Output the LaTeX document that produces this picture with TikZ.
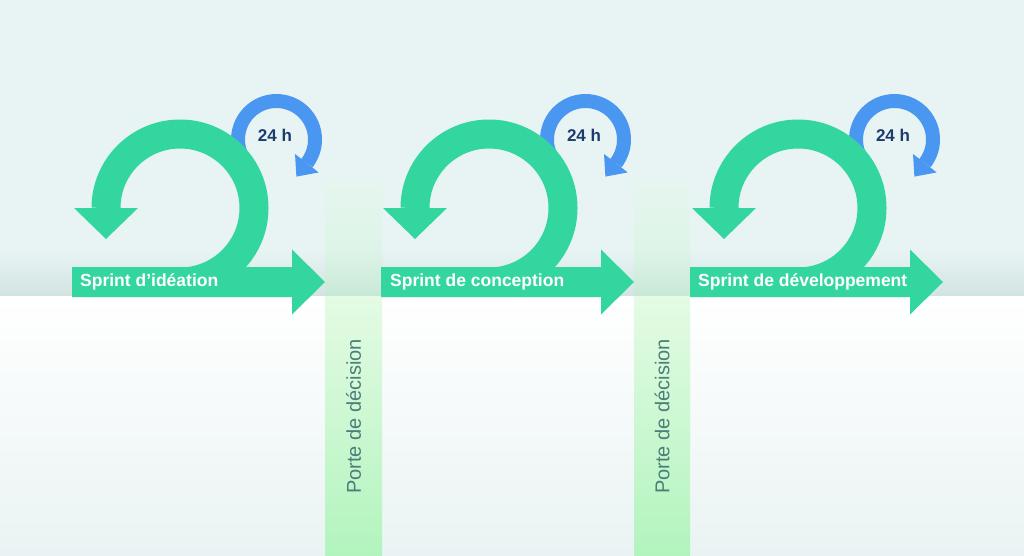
\documentclass[tikz,border=0pt]{standalone}
\usepackage{fontspec}
\setmainfont{Liberation Sans}
\usetikzlibrary{calc}
\definecolor{bandtop}{HTML}{E8F4F4}
\definecolor{bandlow}{HTML}{D2E4E2}
\definecolor{floorlow}{HTML}{EAF3F3}
\definecolor{sprintgreen}{HTML}{34D6A0}
\definecolor{dayblue}{HTML}{4A97F2}
\definecolor{daynavy}{HTML}{1C3B6E}
\definecolor{gatetop}{HTML}{E4FBE4}
\definecolor{gatelow}{HTML}{B2F4BE}
\definecolor{gatetext}{HTML}{4A7E78}
\begin{document}
\begin{tikzpicture}[x=1pt,y=-1pt,
    greenring/.style={draw=sprintgreen,line width=29pt},
    bluering/.style={draw=dayblue,line width=14pt},
    gateglass/.style={top color=gatetop,bottom color=gatelow,opacity=0.3},
    sprintlabel/.style={anchor=west,text=white,inner sep=0pt,
      font=\fontsize{17.5}{20}\selectfont\bfseries},
    daylabel/.style={text=daynavy,inner sep=0pt,
      font=\fontsize{17}{20}\selectfont\bfseries},
    gatelabel/.style={rotate=90,text=gatetext,inner sep=0pt,
      font=\fontsize{20}{24}\selectfont}]
  \useasboundingbox (0,0) rectangle (1024,555);
  % background
  \fill[bandtop] (0,0) rectangle (1024,250);
  \shade[top color=bandtop,bottom color=bandlow] (0,249.5) rectangle (1024,296);
  \shade[top color=white,bottom color=floorlow] (0,296) rectangle (1024,555);
  % decision gates
  \shade[gateglass] (325,180) rectangle (382,296);
  \shade[top color=gatetop,bottom color=gatelow] (325,296) rectangle (382,555);
  \shade[gateglass] (634,180) rectangle (690,296);
  \shade[top color=gatetop,bottom color=gatelow] (634,296) rectangle (690,555);
  \node[gatelabel] (g1) at (353.5,416.5) {Porte de décision};
  \node[gatelabel] (g2) at (662,416.5) {Porte de décision};
  % centres
  \coordinate (c1) at (180,208);
  \coordinate (c2) at (489,208);
  \coordinate (c3) at (798,208);
  \coordinate (b1) at (276.5,139.5);
  \coordinate (b2) at (585.5,139.5);
  \coordinate (b3) at (894.5,139.5);
  % 24 h loops
  \draw[bluering] ($(b1)+(145:38.5)$) arc[start angle=145,end angle=398,radius=38.5];
  \fill[dayblue] ($(b1)+(38:23.5)$) -- ($(b1)+(38:53.5)$) -- ($(b1)+(61.8:42.1)$) -- cycle;
  \draw[bluering] ($(b2)+(145:38.5)$) arc[start angle=145,end angle=398,radius=38.5];
  \fill[dayblue] ($(b2)+(38:23.5)$) -- ($(b2)+(38:53.5)$) -- ($(b2)+(61.8:42.1)$) -- cycle;
  \draw[bluering] ($(b3)+(145:38.5)$) arc[start angle=145,end angle=398,radius=38.5];
  \fill[dayblue] ($(b3)+(38:23.5)$) -- ($(b3)+(38:53.5)$) -- ($(b3)+(61.8:42.1)$) -- cycle;
  % sprint arrows
  \fill[sprintgreen] (72,267) -- (292,267) -- (292,249.5) -- (325,282)
    -- (292,314.5) -- (292,297) -- (72,297) -- cycle;
  \draw[greenring] ($(c1)+(90:74)$) arc[start angle=90,end angle=-180,radius=74];
  \fill[sprintgreen] ($(c1)+(180:42)$) -- ($(c1)+(180:106)$) -- ($(c1)+(-74,31)$) -- cycle;
  \fill[sprintgreen] (381,267) -- (601,267) -- (601,249.5) -- (634,282)
    -- (601,314.5) -- (601,297) -- (381,297) -- cycle;
  \draw[greenring] ($(c2)+(90:74)$) arc[start angle=90,end angle=-180,radius=74];
  \fill[sprintgreen] ($(c2)+(180:42)$) -- ($(c2)+(180:106)$) -- ($(c2)+(-74,31)$) -- cycle;
  \fill[sprintgreen] (690,267) -- (910,267) -- (910,249.5) -- (943,282)
    -- (910,314.5) -- (910,297) -- (690,297) -- cycle;
  \draw[greenring] ($(c3)+(90:74)$) arc[start angle=90,end angle=-180,radius=74];
  \fill[sprintgreen] ($(c3)+(180:42)$) -- ($(c3)+(180:106)$) -- ($(c3)+(-74,31)$) -- cycle;
  % labels
  \node[daylabel] (d1) at (275,135) {24 h};
  \node[daylabel] (d2) at (584,135) {24 h};
  \node[daylabel] (d3) at (893,135) {24 h};
  \node[sprintlabel] (s1) at (80,282) {Sprint d’idéation};
  \node[sprintlabel] (s2) at (390,282) {Sprint de conception};
  \node[sprintlabel] (s3) at (698,282) {Sprint de développement};
\end{tikzpicture}
\end{document}
